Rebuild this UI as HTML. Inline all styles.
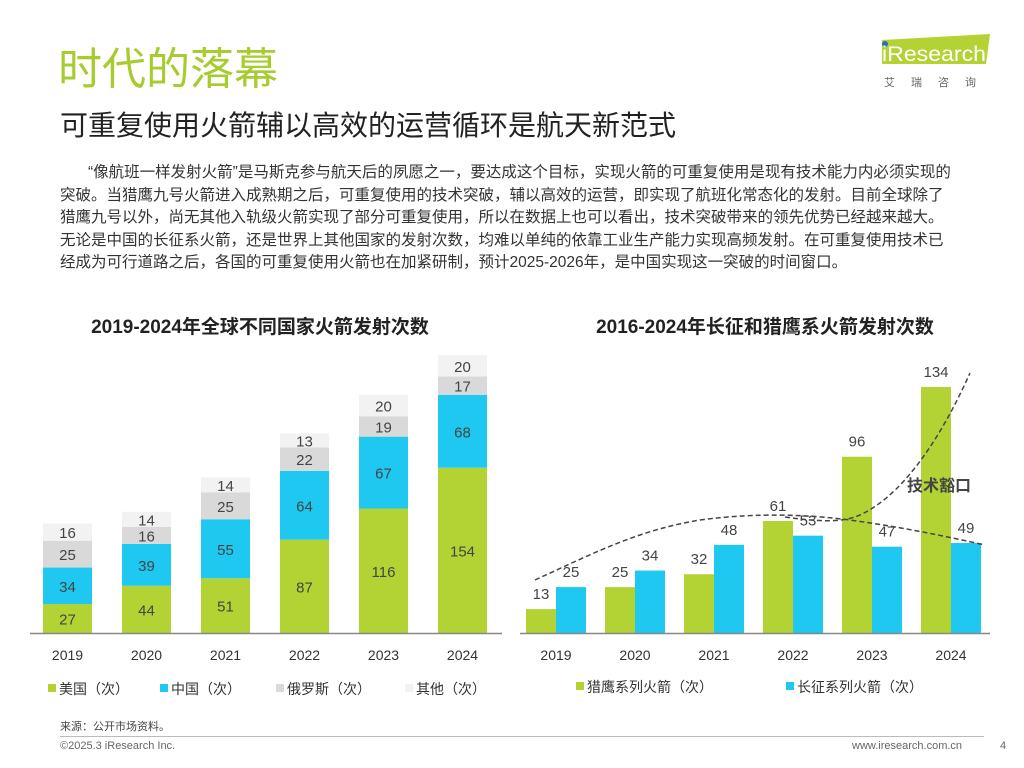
<!DOCTYPE html>
<html><head><meta charset="utf-8"><style>
body{margin:0;width:1024px;height:768px;background:#fff;font-family:"Liberation Sans","Noto Sans CJK SC",sans-serif;position:relative;overflow:hidden;color:#333}
.a{position:absolute;margin:0}
</style></head><body>
<div class="a" style="left:58px;top:40px;font-size:44px;color:#a6cc2f;line-height:60px">时代的落幕</div>
<div class="a" style="left:60px;top:106px;font-size:28px;color:#222;line-height:40px">可重复使用火箭辅以高效的运营循环是航天新范式</div>
<div class="a" style="left:876px;top:32px;width:120px;height:60px">
<svg width="120" height="60"><polygon points="6,8 114,2 110,32 6,32" fill="#b3d334"/><circle cx="9" cy="12" r="3" fill="#2a6cc0"/><text x="6" y="29" font-size="21" fill="#fff" font-family="Liberation Sans" textLength="104" lengthAdjust="spacingAndGlyphs">iResearch</text><text x="8" y="54" font-size="11" fill="#666" letter-spacing="16" font-family="Noto Sans CJK SC">艾瑞咨询</text></svg></div>
<div class="a" style="left:60px;top:162px;font-size:15.5px;line-height:22.5px;color:#333;white-space:nowrap"><span style="padding-left:28px"></span>“像航班一样发射火箭”是马斯克参与航天后的夙愿之一，要达成这个目标，实现火箭的可重复使用是现有技术能力内必须实现的<br>突破。当猎鹰九号火箭进入成熟期之后，可重复使用的技术突破，辅以高效的运营，即实现了航班化常态化的发射。目前全球除了<br>猎鹰九号以外，尚无其他入轨级火箭实现了部分可重复使用，所以在数据上也可以看出，技术突破带来的领先优势已经越来越大。<br>无论是中国的长征系火箭，还是世界上其他国家的发射次数，均难以单纯的依靠工业生产能力实现高频发射。在可重复使用技术已<br>经成为可行道路之后，各国的可重复使用火箭也在加紧研制，预计2025-2026年，是中国实现这一突破的时间窗口。</div>
<div class="a" style="left:60px;top:312px;width:400px;text-align:center;font-size:19px;font-weight:bold;color:#222">2019-2024年全球不同国家火箭发射次数</div>
<div class="a" style="left:560px;top:312px;width:410px;text-align:center;font-size:19px;font-weight:bold;color:#222">2016-2024年长征和猎鹰系火箭发射次数</div>
<svg id="c" class="a" style="left:0;top:0" width="1024" height="768"></svg>
<div class="a" style="left:60px;top:718px;font-size:11px;color:#444">来源：公开市场资料。</div>
<div class="a" style="left:60px;top:736px;width:924px;border-top:1px solid #bbb"></div>
<div class="a" style="left:60px;top:740px;font-size:11px;color:#666">©2025.3 iResearch Inc.</div>
<div class="a" style="left:852px;top:740px;font-size:11px;color:#666">www.iresearch.com.cn</div>
<div class="a" style="left:1000px;top:740px;font-size:11px;color:#666">4</div>
<script>
const years=["2019","2020","2021","2022","2023","2024"];
const usa=[27,44,51,87,116,154];
const china=[34,39,55,64,67,68];
const russia=[25,16,25,22,19,17];
const other=[16,14,14,13,20,20];
const falcon=[13,25,32,61,96,134];
const longMarch=[25,34,48,53,47,49];
const NS="http://www.w3.org/2000/svg",svg=document.getElementById('c');
function mk(t,a,txt){const e=document.createElementNS(NS,t);for(const k in a)e.setAttribute(k,a[k]);if(txt!==undefined)e.textContent=txt;svg.appendChild(e);return e;}
const base=633;
const lx=i=>43+i*79, ly=v=>v*1.073;
const stacks=[[usa,"#b3d334","us"],[china,"#1ec8f0","china"],[russia,"#d9d9d9","russia"],[other,"#f2f2f2","other"]];
years.forEach((y,i)=>{let acc=0;
 stacks.forEach(([arr,col,n])=>{const h=ly(arr[i]);const top=base-ly(acc)-h;
  const r=mk('rect',{x:lx(i),y:top,width:49,height:h,fill:col});
  
  
  const t=mk('text',{x:lx(i)+24.5,y:top+h/2+6,'text-anchor':'middle','font-size':15,fill:'#444'},arr[i]);
  
  
  acc+=arr[i];});
 const xl=mk('text',{x:lx(i)+24.5,y:660,'text-anchor':'middle','font-size':14,fill:'#333'},y);
 
 
});
const a1=mk('line',{x1:30,y1:633.5,x2:502,y2:633.5,stroke:'#888','stroke-width':1.5});


const rx=i=>526+i*79, ry=v=>v*1.836;
years.forEach((y,i)=>{
 [[falcon,"#b3d334","falcon",0],[longMarch,"#1ec8f0","longmarch",30]].forEach(([arr,col,n,off])=>{
  const h=ry(arr[i]);
  const r=mk('rect',{x:rx(i)+off,y:base-h,width:30,height:h,fill:col});
  
  
  const t=mk('text',{x:rx(i)+off+15,y:base-h-10,'text-anchor':'middle','font-size':15,fill:'#444'},arr[i]);
  
  
 });
 const xl=mk('text',{x:rx(i)+30,y:660,'text-anchor':'middle','font-size':14,fill:'#333'},y);
 
 
});
const a2=mk('line',{x1:520,y1:633.5,x2:990,y2:633.5,stroke:'#888','stroke-width':1.5});


const c1=mk('path',{d:'M535,580 C600,550 640,530 700,520 C760,512 810,515 850,520 C900,527 940,535 985,545',fill:'none',stroke:'#444','stroke-width':1.5,'stroke-dasharray':'5,3'});


const c2=mk('path',{d:'M785,517 C820,522 840,522 855,517 C900,500 940,440 970,373',fill:'none',stroke:'#444','stroke-width':1.5,'stroke-dasharray':'5,3'});


const ann=mk('text',{x:907,y:491,'font-size':16,'font-weight':'bold',fill:'#444'},'技术豁口');


const leg=[[48,"#b3d334","美国（次）","us"],[160,"#1ec8f0","中国（次）","china"],[276,"#d9d9d9","俄罗斯（次）","russia"],[405,"#f2f2f2","其他（次）","other"],[576,"#b3d334","猎鹰系列火箭（次）","falcon"],[786,"#1ec8f0","长征系列火箭（次）","longmarch"]];
leg.forEach(([x,c,l,n])=>{
 const right=(n=='falcon'||n=='longmarch');
 const r=mk('rect',{x:x,y:right?682:684,width:8,height:8,fill:c});
 
 
 const t=mk('text',{x:x+11,y:right?692:694,'font-size':14,fill:'#333'},l);
 
 
});
</script>
</body></html>
